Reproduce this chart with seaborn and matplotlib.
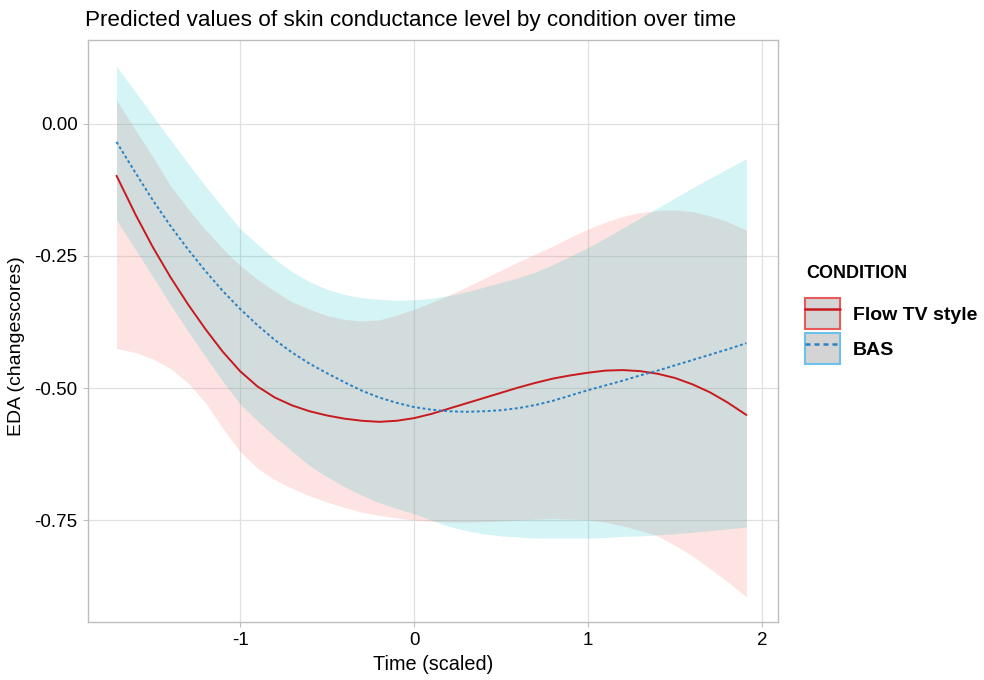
import matplotlib
matplotlib.use("Agg")
import pandas as pd
import matplotlib.pyplot as plt
import seaborn as sns
from matplotlib.patches import Patch
from matplotlib.lines import Line2D
from matplotlib.legend_handler import HandlerTuple

# ── Data ───────────────────────────────────────────────────────────────────────
time = [-1.71, -1.6, -1.5, -1.4, -1.3, -1.2, -1.1, -1.0, -0.9, -0.8, -0.7, -0.6,
        -0.5, -0.4, -0.3, -0.2, -0.1, 0.0, 0.1, 0.2, 0.3, 0.4, 0.5, 0.6,
        0.7, 0.8, 0.9, 1.0, 1.1, 1.2, 1.3, 1.4, 1.5, 1.6, 1.7, 1.8, 1.91]

flow_fit = [-0.098, -0.172, -0.234, -0.290, -0.341, -0.388, -0.431, -0.468, -0.497,
            -0.518, -0.533, -0.544, -0.552, -0.558, -0.562, -0.564, -0.562, -0.557,
            -0.549, -0.539, -0.529, -0.519, -0.509, -0.499, -0.490, -0.482, -0.476,
            -0.471, -0.467, -0.466, -0.468, -0.473, -0.481, -0.493, -0.508, -0.527,
            -0.551]
flow_hi = [0.045, -0.012, -0.063, -0.117, -0.160, -0.200, -0.236, -0.268, -0.294,
           -0.317, -0.337, -0.351, -0.363, -0.370, -0.373, -0.371, -0.362, -0.351,
           -0.338, -0.324, -0.309, -0.293, -0.277, -0.261, -0.246, -0.231, -0.214,
           -0.199, -0.186, -0.175, -0.168, -0.164, -0.163, -0.166, -0.174, -0.185,
           -0.201]
flow_lo = [-0.425, -0.433, -0.445, -0.463, -0.490, -0.527, -0.576, -0.620, -0.652,
           -0.674, -0.690, -0.704, -0.716, -0.726, -0.735, -0.741, -0.746, -0.750,
           -0.752, -0.754, -0.754, -0.753, -0.752, -0.750, -0.748, -0.747, -0.748,
           -0.750, -0.754, -0.761, -0.770, -0.780, -0.798, -0.818, -0.842, -0.866,
           -0.896]

bas_fit = [-0.034, -0.093, -0.145, -0.193, -0.237, -0.278, -0.316, -0.350, -0.381,
           -0.409, -0.433, -0.454, -0.472, -0.489, -0.505, -0.518, -0.528, -0.536,
           -0.541, -0.544, -0.545, -0.544, -0.542, -0.538, -0.532, -0.524, -0.514,
           -0.504, -0.495, -0.486, -0.476, -0.467, -0.457, -0.447, -0.437, -0.427,
           -0.415]
bas_hi = [0.109, 0.060, 0.015, -0.030, -0.074, -0.117, -0.158, -0.198, -0.228,
          -0.256, -0.280, -0.299, -0.313, -0.323, -0.329, -0.332, -0.334, -0.333,
          -0.330, -0.325, -0.318, -0.309, -0.300, -0.291, -0.280, -0.266, -0.250,
          -0.234, -0.216, -0.197, -0.178, -0.159, -0.140, -0.121, -0.103, -0.085,
          -0.066]
bas_lo = [-0.182, -0.238, -0.290, -0.342, -0.392, -0.440, -0.487, -0.530, -0.562,
          -0.592, -0.620, -0.647, -0.668, -0.687, -0.703, -0.717, -0.728, -0.738,
          -0.750, -0.762, -0.770, -0.776, -0.780, -0.782, -0.784, -0.784, -0.784,
          -0.784, -0.783, -0.781, -0.780, -0.778, -0.776, -0.773, -0.770, -0.767,
          -0.763]

conditions = ["Flow TV style", "BAS"]
line_colors = {"Flow TV style": "#c8191e", "BAS": "#2a80c2"}
fill_colors = {"Flow TV style": "#F8766D", "BAS": "#00BFC4"}
box_edges = {"Flow TV style": "#e65a5c", "BAS": "#6cc0ec"}

df = pd.DataFrame({
    "time": time * 2,
    "eda": flow_fit + bas_fit,
    "condition": ["Flow TV style"] * len(time) + ["BAS"] * len(time),
})

# ── Plot ───────────────────────────────────────────────────────────────────────
sns.set_theme(style="white")
plt.rcParams["font.family"] = ["Liberation Sans", "DejaVu Sans"]
plt.rcParams["axes.unicode_minus"] = False
plt.rcParams["text.color"] = "black"

fig = plt.figure(figsize=(9.84, 6.8), dpi=100)
ax = fig.add_axes([0.0894, 0.0853, 0.7013, 0.8559])

ax.fill_between(time, flow_lo, flow_hi, color=fill_colors["Flow TV style"],
                alpha=0.2, lw=0, zorder=2)
ax.fill_between(time, bas_lo, bas_hi, color=fill_colors["BAS"],
                alpha=0.17, lw=0, zorder=2)

sns.lineplot(data=df, x="time", y="eda", hue="condition", style="condition",
             palette=line_colors, dashes={"Flow TV style": "", "BAS": (1.5, 1.3)},
             linewidth=1.4, legend=False, ax=ax, zorder=3)

ax.set_xlim(-1.874, 2.092)
ax.set_ylim(-0.943, 0.159)
ax.set_xticks([-1, 0, 1, 2])
ax.set_yticks([0.0, -0.25, -0.5, -0.75])
ax.set_yticklabels(["0.00", "-0.25", "-0.50", "-0.75"])
ax.grid(True, color="#e0e0e0", lw=0.9, zorder=0)
ax.set_axisbelow(True)
for s in ax.spines.values():
    s.set_color("#bdbdbd")
    s.set_linewidth(1.0)
ax.tick_params(axis="both", length=3.5, width=0.8, color="#bdbdbd",
               labelsize=13.5, labelcolor="black", pad=4)
ax.tick_params(axis="both", bottom=True, left=True)

ax.set_xlabel("Time (scaled)", fontsize=14.3, labelpad=4, color="black")
ax.set_ylabel("EDA (changescores)", fontsize=14, color="black")
ax.yaxis.set_label_coords(-0.0906, 0.474)
ax.set_title("Predicted values of skin conductance level by condition over time",
             loc="left", fontsize=16.2, pad=10, x=-0.004, color="black")

# legend: title as text, keys as grey boxes with coloured border + line
fig.text(806 / 984, 1 - 273 / 680, "CONDITION", fontsize=13, fontweight="bold",
         va="center", ha="left")
handles = []
for c in conditions:
    box = Patch(facecolor="#d4d4d4", edgecolor=box_edges[c], linewidth=1.5)
    ln = Line2D([], [], color=line_colors[c], lw=1.8,
                ls="-" if c == "Flow TV style" else (0, (2.0, 1.6)))
    handles.append((box, ln))

fig.legend(handles, conditions, handler_map={tuple: HandlerTuple(ndivide=1)},
           loc="upper left", bbox_to_anchor=(805 / 984, 1 - 298 / 680),
           frameon=False, handlelength=1.8, handleheight=2.08,
           labelspacing=0.2, handletextpad=0.65, borderpad=0, borderaxespad=0,
           prop={"weight": "bold", "size": 14})

fig.savefig("out.png", dpi=100)
